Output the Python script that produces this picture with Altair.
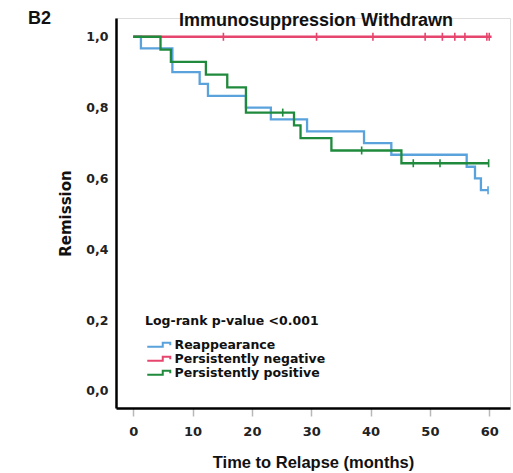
import altair as alt
import pandas as pd

# ---- data ----
groups = ["Reappearance", "Persistently negative", "Persistently positive"]
colors = ["#5aa2dc", "#e6456d", "#1f8a3c"]

blue_t = [0, 1.3, 6.6, 11.2, 12.6, 19.0, 23.2, 29.3, 38.9, 43.5, 56.2, 57.6, 58.6, 59.8]
blue_s = [1.0, 0.967, 0.900, 0.867, 0.833, 0.800, 0.767, 0.733, 0.700, 0.667, 0.633, 0.600, 0.567, 0.567]
blue_cens = [59.8]

red_t = [0, 60.4]
red_s = [1.0, 1.0]
red_cens = [15.2, 30.9, 40.4, 49.2, 52.1, 54.2, 55.9, 59.6, 60.0]

green_t = [0, 4.6, 6.35, 12.25, 15.85, 19.0, 27.1, 28.2, 33.4, 45.2, 59.9]
green_s = [1.0, 0.964, 0.929, 0.893, 0.857, 0.786, 0.750, 0.714, 0.679, 0.643, 0.643]
green_cens = [25.2, 38.5, 47.2, 51.7, 59.9]

x_ticks = [0, 10, 20, 30, 40, 50, 60]
y_ticks = [0.0, 0.2, 0.4, 0.6, 0.8, 1.0]


def step_value(ts, ss, t):
    v = ss[0]
    for ti, si in zip(ts, ss):
        if ti <= t:
            v = si
    return v


series = [(groups[0], blue_t, blue_s, blue_cens),
          (groups[1], red_t, red_s, red_cens),
          (groups[2], green_t, green_s, green_cens)]

line_rows, cens_rows = [], []
for order, (g, ts, ss, cs) in enumerate(series):
    for t, s in zip(ts, ss):
        line_rows.append({"group": g, "month": t, "surv": s, "o": order})
    for c in cs:
        cens_rows.append({"group": g, "month": c, "surv": step_value(ts, ss, c)})

lines_df = pd.DataFrame(line_rows)
cens_df = pd.DataFrame(cens_rows)

xscale = alt.Scale(domain=[-2.9, 63.5], nice=False, zero=False)
yscale = alt.Scale(domain=[-0.048, 1.053], nice=False, zero=False)
cscale = alt.Scale(domain=groups, range=colors)

# step-shaped legend glyph (units of 5 px with symbolSize=100)
legend_shape = "M-0.8,0.4L2.3,0.4L2.3,-0.4L3.8,-0.4L3.8,0.1"

lines = alt.Chart(lines_df).mark_line(interpolate="step-after", strokeWidth=2.3).encode(
    x=alt.X("month:Q", scale=xscale,
            axis=alt.Axis(values=x_ticks, title="Time to Relapse (months)", grid=False,
                          domainColor="black", domainWidth=2.5, tickColor="#b8b8b8",
                          tickSize=8, tickWidth=1.5, labelPadding=9,
                          labelFont="DejaVu Sans", labelFontWeight="bold", labelFontSize=13,
                          labelColor="#222222",
                          titleFont="Liberation Sans", titleFontWeight="bold", titleFontSize=16.5,
                          titleColor="#111111", titlePadding=16)),
    y=alt.Y("surv:Q", scale=yscale,
            axis=alt.Axis(values=y_ticks, title="Remission", grid=False, ticks=False,
                          domainColor="black", domainWidth=2.5, labelPadding=8,
                          labelExpr="replace(format(datum.value, '.1f'), '.', ',')",
                          labelFont="DejaVu Sans", labelFontWeight="bold", labelFontSize=12.5,
                          labelColor="#222222",
                          titleFont="DejaVu Sans", titleFontWeight="bold", titleFontSize=15,
                          titleColor="#111111", titlePadding=12)),
    color=alt.Color("group:N", scale=cscale,
                    legend=alt.Legend(title="Log-rank p-value <0.001", orient="none",
                                      legendX=29, legendY=297, padding=0,
                                      titleFont="DejaVu Sans", titleFontWeight="bold",
                                      titleFontSize=12.5, titleColor="#111111",
                                      titlePadding=11,
                                      labelFont="DejaVu Sans", labelFontWeight="bold",
                                      labelFontSize=12.5, labelColor="#111111",
                                      labelOffset=17, rowPadding=1,
                                      symbolType=legend_shape, symbolSize=100,
                                      symbolStrokeWidth=2, symbolFillColor="transparent")),
    order=alt.Order("o:Q"),
)

cens = alt.Chart(cens_df).mark_point(shape="M0,-1L0,1", size=64, strokeWidth=1.6,
                                     filled=False, opacity=1).encode(
    x=alt.X("month:Q", scale=xscale),
    y=alt.Y("surv:Q", scale=yscale),
    stroke=alt.Stroke("group:N", scale=cscale, legend=None),
)

label_df = pd.DataFrame({"t": ["B2"]})
b2 = alt.Chart(label_df).mark_text(font="Liberation Sans", fontWeight="bold", fontSize=18,
                                   align="left", baseline="middle", color="#111111").encode(
    text="t:N", x=alt.value(-88), y=alt.value(1))

chart = alt.layer(lines, cens, b2).properties(
    width=394, height=390,
    padding={"left": 116, "top": 18, "right": 3, "bottom": 65},
    autosize=alt.AutoSizeParams(type="none"),
    title=alt.TitleParams("Immunosuppression Withdrawn", font="Liberation Sans",
                          fontWeight="bold", fontSize=18, color="#111111",
                          anchor="middle", baseline="middle", offset=0, dx=3, dy=29),
).configure_view(stroke=None).configure(background="white")

chart.save("out.html", embed_options={"renderer": "svg", "actions": False})
